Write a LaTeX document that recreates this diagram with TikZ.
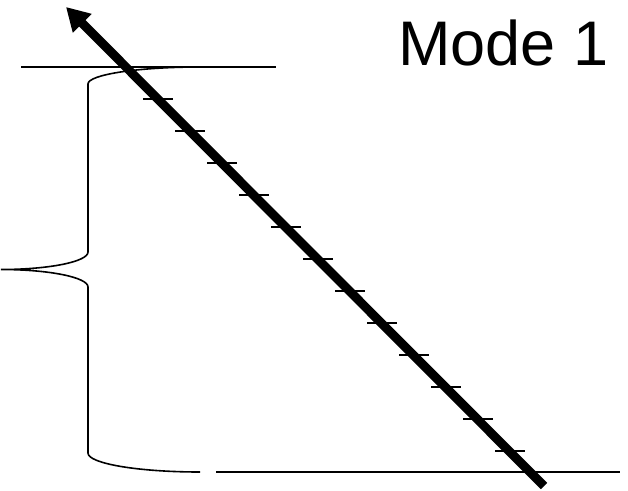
\documentclass[tikz,border=0pt]{standalone}
\usepackage{fontspec}
\setmainfont{Liberation Sans}
\usetikzlibrary{arrows.meta}
\tikzset{
  thinline/.style={line width=1.6pt, black},
  tickline/.style={line width=1.8pt, black},
  bigarrow/.style={line width=9pt, black, -{Triangle[length=23pt,width=25pt]}},
  titletext/.style={font=\fontsize{63}{70}\selectfont, inner sep=0pt, anchor=base west}
}
\begin{document}
\begin{tikzpicture}[x=1pt,y=-1pt]
\useasboundingbox (0,0) rectangle (628,490);
% reference lines
\coordinate (tl1) at (21,67);
\coordinate (tl2) at (276,67);
\coordinate (bl1) at (216,472);
\coordinate (bl2) at (620,472);
\draw[thinline] (tl1) -- (tl2);
\draw[thinline] (bl1) -- (bl2);
% brace
\coordinate (btop) at (200,67);
\coordinate (btip) at (1,269.5);
\coordinate (bbot) at (200,472);
\draw[thinline] (btop) .. controls (138,67) and (88,74.6) .. (88,84)
  -- (88,252) .. controls (88,261.7) and (49,269.5) .. (btip)
  .. controls (49,269.5) and (88,277.3) .. (88,287)
  -- (88,453) .. controls (88,463.5) and (138,472) .. (bbot);
% ticks
\foreach \k in {0,...,11}{
  \draw[tickline] (143+32*\k,99+32*\k) -- (173+32*\k,99+32*\k);
}
% arrow
\coordinate (astart) at (544,486);
\coordinate (aend) at (66,7);
\draw[bigarrow] (astart) -- (aend);
% title
\node[titletext] (title) at (398,65) {Mode 1};
\end{tikzpicture}
\end{document}
